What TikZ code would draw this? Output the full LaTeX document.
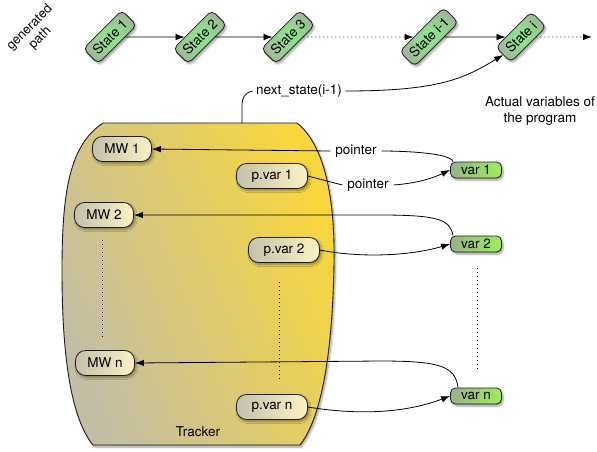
\documentclass[tikz,border=0pt]{standalone}
\usepackage{fontspec}
\setmainfont{TeX Gyre Heros}
\usetikzlibrary{arrows.meta,shadows.blur}
\definecolor{stIn}{RGB}{140,235,140}
\definecolor{stOut}{RGB}{158,185,150}
\definecolor{trL}{RGB}{194,190,165}
\definecolor{trR}{RGB}{248,214,60}
\definecolor{bxL}{RGB}{196,192,172}
\definecolor{bxR}{RGB}{252,242,196}
\definecolor{vrL}{RGB}{150,178,135}
\definecolor{vrR}{RGB}{160,236,90}
\definecolor{edge}{RGB}{30,30,30}
\begin{document}
\begin{tikzpicture}[x=1pt,y=-1pt,
  every node/.style={font=\fontsize{13.5}{16}\selectfont},
  shad/.style={blur shadow={shadow xshift=1.5pt,shadow yshift=-2pt,shadow blur steps=6,shadow opacity=40}},
  statebox/.style={draw=edge,line width=0.8pt,rounded corners=5pt,rotate=45,
     inner color=stIn,outer color=stOut,minimum height=21pt,inner xsep=6pt,inner ysep=0pt,shad},
  mwbox/.style={draw=edge,line width=0.8pt,rounded corners=10pt,left color=bxL,right color=bxR,
     minimum height=25pt,minimum width=59pt,inner sep=0pt,shad},
  pvbox/.style={mwbox,minimum width=71pt},
  varbox/.style={draw=edge,line width=0.8pt,rounded corners=5pt,left color=vrL,right color=vrR,
     minimum height=16pt,minimum width=51pt,inner sep=0pt,shad},
  lbl/.style={inner xsep=5pt,inner ysep=2pt},
  conn/.style={draw=black,line width=0.8pt},
  arr/.style={conn,-{Latex[length=9pt,width=6.5pt]}},
  dots/.style={line width=0.9pt,dash pattern=on 1pt off 3pt}
]
\useasboundingbox (0,0) rectangle (597,451);

% generated path label
\node[rotate=45,align=center,font=\fontsize{13}{14.5}\selectfont] (gp) at (35,33) {generated\\path};

% states
\node[statebox] (s1) at (110,37) {State 1};
\node[statebox] (s2) at (200,37) {State 2};
\node[statebox] (s3) at (288,37) {State 3};
\node[statebox] (si1) at (429,37) {State i-1};
\node[statebox] (si) at (521,37) {State i};
\coordinate (send) at (592,37);

\draw[arr] (s1) -- (s2);
\draw[arr] (s2) -- (s3);
\draw[arr,dots] (s3) -- (si1);
\draw[arr] (si1) -- (si);
\draw[arr,dots] (si) -- (send);

% tracker
\path[draw=edge,line width=0.9pt,left color=trL,right color=trR,shading angle=112,shad]
  (103,123) -- (297,123)
  .. controls (325,145) and (335,200) .. (334,262)
  .. controls (333,330) and (326,412) .. (300,445)
  -- (93,445)
  .. controls (66,412) and (62,330) .. (62,270)
  .. controls (62,190) and (70,145) .. (103,123) -- cycle;
\coordinate (trtop) at (242,123);
\node (trk) at (198,432) {Tracker};

% next_state
\node (ns) at (299,91) {next\_state(i-1)};
\draw[conn] (trtop) -- (242,106) .. controls (242,98) and (244,93) .. (ns.west);
\draw[arr] (ns.east) .. controls (440,91) and (465,78) .. (si.west);

% actual variables
\node[align=center] (av) at (540,111) {Actual variables of\\the program};

% tracker boxes
\node[mwbox] (mw1) at (122,149) {MW 1};
\node[pvbox] (pv1) at (272,176) {p.var 1};
\node[mwbox] (mw2) at (104,215) {MW 2};
\node[pvbox] (pv2) at (284,250) {p.var 2};
\node[mwbox] (mwn) at (105,363) {MW n};
\node[pvbox] (pvn) at (272,407) {p.var n};

\draw[dots] (102,240) -- (102,340);
\draw[dots] (279,282) -- (279,382);

% program variables
\node[varbox] (v1) at (476,170) {var 1};
\node[varbox] (v2) at (476,244) {var 2};
\node[varbox] (vn) at (476,396) {var n};
\draw[dots] (477,268) -- (477,370);

% pointer labels
\node[lbl] (lp1) at (356,151) {pointer};
\node[lbl] (lp2) at (368,185) {pointer};

% connectors
\draw[conn] ([xshift=3pt]v1.north west) .. controls +(-3,-9) and +(20,0) .. (lp1.east);
\draw[arr] (lp1.west) -- (mw1.east);
\draw[conn] (pv1.east) -- (lp2.west);
\draw[arr] (lp2.east) .. controls (420,183) and (435,177) .. (v1.west);

\draw[arr] ([xshift=3pt]v2.north west) .. controls (450,220) and (440,215) .. (380,215) -- (mw2.east);
\draw[arr] (pv2.east) .. controls (360,258) and (410,256) .. (v2.west);

\draw[arr] ([xshift=8pt]vn.north west) .. controls (455,366) and (440,361) .. (380,361) -- (mwn.east);
\draw[arr] (pvn.east) .. controls (350,414) and (400,415) .. (vn.west);
\end{tikzpicture}
\end{document}
